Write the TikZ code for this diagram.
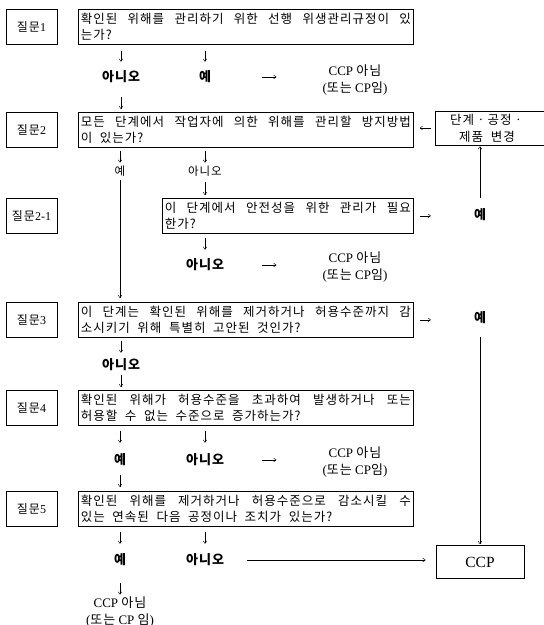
\documentclass[tikz,border=0pt]{standalone}
\usepackage{fontspec}
\setmainfont{Liberation Serif}
\newfontfamily\kr{Noto Sans CJK KR}[LetterSpace=8,WordSpace=2]
\usetikzlibrary{arrows.meta}

\begin{document}
\begin{tikzpicture}[x=1pt,y=-1pt,
    lbl/.style={draw,line width=0.7pt,minimum width=51pt,minimum height=35pt,inner sep=0pt,font=\fontsize{12}{14}\selectfont},
    qbox/.style={draw,line width=0.7pt,anchor=north west,minimum height=35pt,inner xsep=2.5pt,inner ysep=1pt,align=justify,font=\kr\fontsize{12.5}{16}\selectfont},
    ans/.style={inner sep=1pt,font=\kr\fontsize{11.5}{13}\selectfont},
    ansb/.style={inner sep=1pt,font=\kr\bfseries\fontsize{13}{15}\selectfont},
    res/.style={inner sep=1pt,align=center,font=\fontsize{13}{17}\selectfont},
    arr/.style={-{To[length=3pt,width=4pt]},line width=0.45pt}]
  \useasboundingbox (0,0) rectangle (544,625);
  \foreach \nm/\y/\t in {1/26.5/1, 2/129.5/2, 21/215.5/2-1, 3/319.5/3, 4/407.5/4, 5/508.5/5}
    \node[lbl] (l\nm) at (31.5,\y) {{\kr 질문}\t};

  \node[qbox,text width=330pt] (q1) at (78,9) {확인된 위해를 관리하기 위한 선행 위생관리규정이 있\linebreak 는가?};
  \node[ansb] (no1) at (121,77) {아니오};
  \node[ansb] (yes1) at (205,77) {예};
  \node[res] (ccp1) at (355,80) {CCP {\kr 아님}\\({\kr 또는} CP{\kr 임})};

  \node[qbox,text width=330pt] (q2) at (78,112) {모든 단계에서 작업자에 의한 위해를 관리할 방지방법\linebreak 이 있는가?};
  \node[ans] (yes2) at (120,171) {예};
  \node[ans] (no2) at (205,171) {아니오};
  \node[draw,line width=0.7pt,anchor=west,minimum width=113pt,minimum height=34pt] (chg) at (435,128) {};
  \node[ans,align=center,font=\kr\fontsize{12.5}{17}\selectfont] (chgt) at (487,128) {단계ㆍ공정ㆍ\\제품 변경};

  \node[qbox,text width=246pt] (q21) at (162,198) {이 단계에서 안전성을 위한 관리가 필요\linebreak 한가?};
  \node[ansb] (yes21) at (480,215) {예};
  \node[ansb] (no21) at (205,265) {아니오};
  \node[res] (ccp2) at (355,267) {CCP {\kr 아님}\\({\kr 또는} CP{\kr 임})};

  \node[qbox,text width=330pt] (q3) at (78,302) {이 단계는 확인된 위해를 제거하거나 허용수준까지 감\linebreak 소시키기 위해 특별히 고안된 것인가?};
  \node[ansb] (yes3) at (480,318) {예};
  \node[ansb] (no3) at (121,365) {아니오};

  \node[qbox,text width=330pt] (q4) at (78,390) {확인된 위해가 허용수준을 초과하여 발생하거나 또는\linebreak 허용할 수 없는 수준으로 증가하는가?};
  \node[ansb] (yes4) at (120,460) {예};
  \node[ansb] (no4) at (205,460) {아니오};
  \node[res] (ccp3) at (355,462) {CCP {\kr 아님}\\({\kr 또는} CP{\kr 임})};

  \node[qbox,text width=330pt] (q5) at (78,491) {확인된 위해를 제거하거나 허용수준으로 감소시킬 수\linebreak 있는 연속된 다음 공정이나 조치가 있는가?};
  \node[ansb] (yes5) at (120,560) {예};
  \node[ansb] (no5) at (205,560) {아니오};
  \node[res] (ccp4) at (120,612) {CCP {\kr 아님}\\({\kr 또는} CP {\kr 임})};
  \node[draw,line width=0.7pt,minimum width=88pt,minimum height=33pt,font=\fontsize{15.5}{18}\selectfont] (ccpb) at (480,562) {CCP};

  \draw[arr,shorten <=6pt,shorten >=8pt] (q1.south -| no1) -- (no1.north);
  \draw[arr,shorten <=6pt,shorten >=8pt] (q1.south -| yes1) -- (yes1.north);
  \draw[arr,shorten <=50pt,shorten >=45pt] (yes1.east) -- (yes1.east -| ccp1.west);
  \draw[arr,shorten <=13pt,shorten >=3pt] (no1.south) -- (no1.south |- q2.north);

  \draw[arr,shorten <=3pt,shorten >=2pt] (q2.south -| yes2) -- (yes2.north);
  \draw[arr,shorten <=3pt,shorten >=2pt] (q2.south -| no2) -- (no2.north);
  \draw[arr,shorten <=3pt,shorten >=4pt] (yes2.south) -- (yes2.south |- q3.north);
  \draw[arr,shorten <=5pt,shorten >=3pt] (no2.south) -- (no2.south |- q21.north);
  \draw[arr,shorten <=4pt,shorten >=6pt] (chg.west) -- (chg.west -| q2.east);

  \draw[arr,shorten <=6pt,shorten >=42pt] (q21.east) -- (q21.east -| yes21.west);
  \draw[arr,shorten <=10pt,shorten >=1pt] (yes21.north) -- (yes21.north |- chg.south);
  \draw[arr,shorten <=4pt,shorten >=8pt] (q21.south -| no21) -- (no21.north);
  \draw[arr,shorten <=37pt,shorten >=45pt] (no21.east) -- (no21.east -| ccp2.west);

  \draw[arr,shorten <=6pt,shorten >=42pt] (q3.east) -- (q3.east -| yes3.west);
  \draw[arr,shorten <=12pt,shorten >=1pt] (yes3.south) -- (yes3.south |- ccpb.north);
  \draw[arr,shorten <=3pt,shorten >=5pt] (q3.south -| no3) -- (no3.north);
  \draw[arr,shorten <=3pt,shorten >=3pt] (no3.south) -- (no3.south |- q4.north);

  \draw[arr,shorten <=5pt,shorten >=10pt] (q4.south -| yes4) -- (yes4.north);
  \draw[arr,shorten <=5pt,shorten >=10pt] (q4.south -| no4) -- (no4.north);
  \draw[arr,shorten <=37pt,shorten >=45pt] (no4.east) -- (no4.east -| ccp3.west);
  \draw[arr,shorten <=8pt,shorten >=4pt] (yes4.south) -- (yes4.south |- q5.north);

  \draw[arr,shorten <=5pt,shorten >=9pt] (q5.south -| yes5) -- (yes5.north);
  \draw[arr,shorten <=5pt,shorten >=9pt] (q5.south -| no5) -- (no5.north);
  \draw[arr,shorten <=22pt,shorten >=10pt] (no5.east) -- (no5.east -| ccpb.west);
  \draw[arr,shorten <=16pt,shorten >=1pt] (yes5.south) -- (ccp4.north);
\end{tikzpicture}
\end{document}
